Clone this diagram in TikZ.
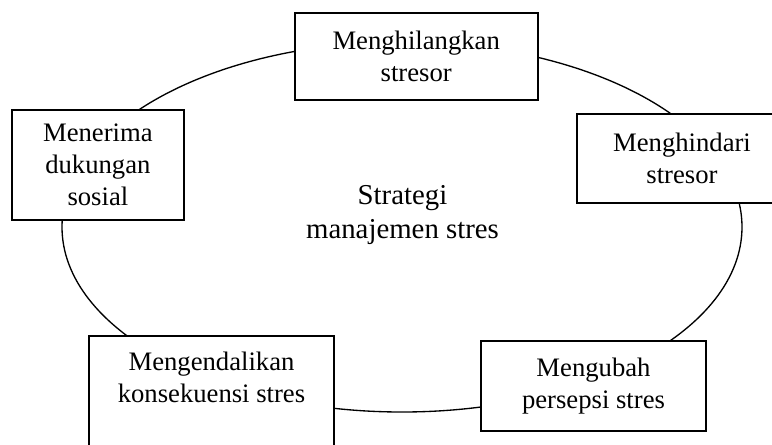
\documentclass[tikz,border=0pt]{standalone}
\usepackage{fontspec}
\setmainfont{Liberation Serif}
\usetikzlibrary{positioning}

\begin{document}
\begin{tikzpicture}[x=0.75pt, y=-0.75pt, line width=1pt,
  box/.style={draw, line width=1.2pt, fill=white, inner sep=0pt, align=center,
    font=\fontsize{20}{24}\selectfont}]
\clip (0,0) rectangle (772,444);
\draw (402,227) ellipse [x radius=340, y radius=185];
\node (mid) at (402.5,215) [align=center, font=\fontsize{21.6}{26}\selectfont] {Strategi\\manajemen stres};
\node (hilang) at (416.2,56.7) [box, minimum width=182.25pt, minimum height=65.25pt] {Menghilangkan\\stresor};
\node (terima) at (97.9,165) [box, minimum width=129.2pt, minimum height=82.5pt] {Menerima\\dukungan\\sosial};
\node (hindar) at (682,158.5) [box, minimum width=157.5pt, minimum height=66.75pt] {Menghindari\\stresor};
\node (kendali) at (211.5,335) [box, anchor=north, minimum width=183.75pt, inner ysep=11.8pt, text depth=60pt] {Mengendalikan\\konsekuensi stres};
\node (ubah) at (593.5,386) [box, minimum width=168.75pt, minimum height=67.5pt] {Mengubah\\persepsi stres};
\end{tikzpicture}
\end{document}
